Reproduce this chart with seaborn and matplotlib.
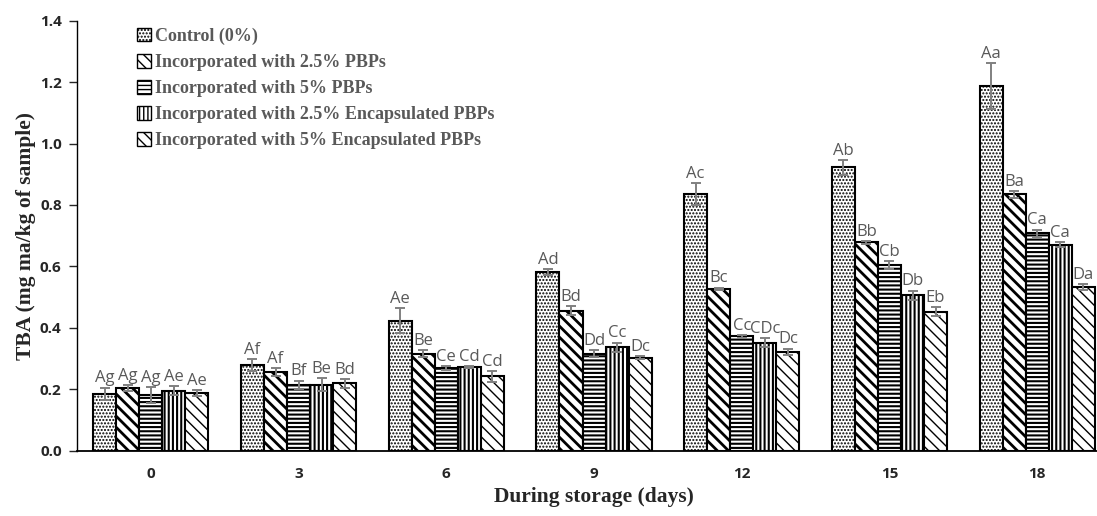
import pandas as pd
import matplotlib
matplotlib.use("Agg")
import matplotlib.pyplot as plt
import matplotlib.patches as mpatches
import seaborn as sns

# values
days = ["0", "3", "6", "9", "12", "15", "18"]
treatments = [
    "Control (0%)",
    "Incorporated with 2.5% PBPs",
    "Incorporated with 5% PBPs",
    "Incorporated with 2.5% Encapsulated PBPs",
    "Incorporated with 5% Encapsulated PBPs",
]
control = [0.185, 0.279, 0.423, 0.581, 0.835, 0.922, 1.187]
pbp_25 = [0.203, 0.255, 0.316, 0.456, 0.527, 0.678, 0.834]
pbp_5 = [0.181, 0.215, 0.269, 0.316, 0.372, 0.604, 0.708]
enc_25 = [0.195, 0.215, 0.272, 0.337, 0.352, 0.506, 0.671]
enc_5 = [0.188, 0.219, 0.242, 0.302, 0.322, 0.453, 0.532]

control_err = [0.020, 0.018, 0.040, 0.010, 0.035, 0.025, 0.075]
pbp_25_err = [0.010, 0.013, 0.012, 0.015, 0.004, 0.005, 0.010]
pbp_5_err = [0.025, 0.013, 0.006, 0.012, 0.004, 0.012, 0.012]
enc_25_err = [0.015, 0.020, 0.004, 0.015, 0.015, 0.015, 0.008]
enc_5_err = [0.010, 0.015, 0.018, 0.005, 0.010, 0.015, 0.010]

control_lbl = ["Ag", "Af", "Ae", "Ad", "Ac", "Ab", "Aa"]
pbp_25_lbl = ["Ag", "Af", "Be", "Bd", "Bc", "Bb", "Ba"]
pbp_5_lbl = ["Ag", "Bf", "Ce", "Dd", "Cc", "Cb", "Ca"]
enc_25_lbl = ["Ae", "Be", "Cd", "Cc", "CDc", "Db", "Ca"]
enc_5_lbl = ["Ae", "Bd", "Cd", "Dc", "Dc", "Eb", "Da"]

series = [control, pbp_25, pbp_5, enc_25, enc_5]
errors = [control_err, pbp_25_err, pbp_5_err, enc_25_err, enc_5_err]
letters = [control_lbl, pbp_25_lbl, pbp_5_lbl, enc_25_lbl, enc_5_lbl]
hatches = [".....", "\\\\\\", "----", "||||", "\\\\\\"]
hatch_lw = [1.0, 2.0, 1.5, 1.5, 1.0]

rows = []
for t, vals in zip(treatments, series):
    for d, v in zip(days, vals):
        rows.append({"day": d, "treatment": t, "tba": v})
df = pd.DataFrame(rows)

sns.set_style("white")
plt.rcParams["hatch.linewidth"] = 1.0
plt.rcParams["hatch.color"] = "black"

fig, ax = plt.subplots(figsize=(10.97, 5.16), dpi=100)
# the x axis of the original runs past the right edge of the picture
fig.subplots_adjust(left=0.0702, right=1.0128, bottom=0.1266, top=0.960)

sns.barplot(data=df, x="day", y="tba", hue="treatment", order=days,
            hue_order=treatments, errorbar=None,
            palette=["white"] * 5, edgecolor="black", linewidth=1.5,
            width=0.78, ax=ax, legend=False)

grey = "#595959"
for cont, h, lw, err, lbls in zip(ax.containers, hatches, hatch_lw, errors, letters):
    xs, ys = [], []
    for bar in cont:
        bar.set_hatch(h)
        if hasattr(bar, "set_hatch_linewidth"):
            bar.set_hatch_linewidth(lw)
        bar.set_facecolor("white")
        bar.set_edgecolor("black")
        xs.append(bar.get_x() + bar.get_width() / 2)
        ys.append(bar.get_height())
    ax.errorbar(xs, ys, yerr=err, fmt="none", ecolor="#808080",
                elinewidth=1.4, capsize=3.6, capthick=1.4, zorder=5)
    for x, y, e, s in zip(xs, ys, err, lbls):
        ax.text(x, y + e + 0.004, s, ha="center", va="bottom",
                fontsize=12, color=grey, family="Open Sans")

ax.set_ylim(0, 1.4)
ax.set_xlim(-0.5, 6.5)
ax.set_yticks([0, 0.2, 0.4, 0.6, 0.8, 1.0, 1.2, 1.4])
ax.set_yticklabels([f"{v:.1f}" for v in ax.get_yticks()])
for lab in ax.get_yticklabels() + ax.get_xticklabels():
    lab.set_fontweight("bold")
    lab.set_fontsize(11)
    lab.set_family("Open Sans")
ax.tick_params(axis="y", length=6, width=1, direction="out", left=True, pad=5)
ax.tick_params(axis="x", length=0, pad=12)

sns.despine(ax=ax)
ax.spines["left"].set_color("black")
ax.spines["bottom"].set_color("black")
ax.spines["left"].set_linewidth(1)
ax.spines["bottom"].set_linewidth(1.3)

ax.set_ylabel("TBA (mg ma/kg of sample)", fontsize=15.5, fontweight="bold",
              family="Liberation Serif", labelpad=3)
ax.set_xlabel("During storage (days)", fontsize=15.5, fontweight="bold",
              family="Liberation Serif", labelpad=4)

handles = []
for h, lw in zip(hatches, hatch_lw):
    p = mpatches.Patch(facecolor="white", edgecolor="black", hatch=h, linewidth=1)
    if hasattr(p, "set_hatch_linewidth"):
        p.set_hatch_linewidth(lw)
    handles.append(p)
leg = ax.legend(handles, treatments, loc="upper left", bbox_to_anchor=(0.051, 1.0),
                borderaxespad=0, frameon=False, handlelength=0.75, handleheight=0.75,
                handletextpad=0.25, labelspacing=0.5,
                prop={"family": "Liberation Serif", "weight": "bold", "size": 13})
for txt in leg.get_texts():
    txt.set_color(grey)

fig.savefig("out.png", dpi=100)
